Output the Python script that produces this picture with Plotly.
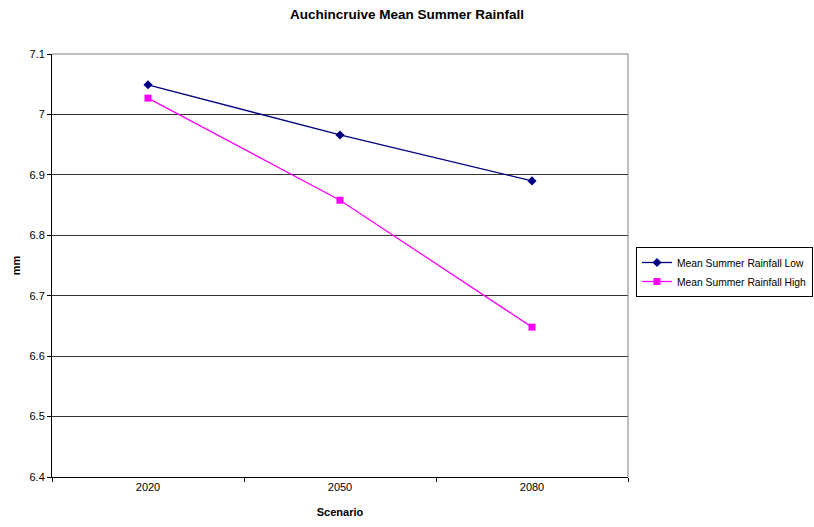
import plotly.graph_objects as go

scenarios = ["2020", "2050", "2080"]
rainfall_low = [7.049, 6.966, 6.890]
rainfall_high = [7.027, 6.858, 6.648]
y_ticks = [6.4, 6.5, 6.6, 6.7, 6.8, 6.9, 7.0, 7.1]
y_tick_text = ["6.4", "6.5", "6.6", "6.7", "6.8", "6.9", "7", "7.1"]

font = "Liberation Sans, Arial, sans-serif"

fig = go.Figure()
fig.add_trace(go.Scatter(
    x=scenarios, y=rainfall_low, mode="lines+markers",
    name="Mean Summer Rainfall Low",
    line=dict(color="#000080", width=1.3),
    marker=dict(symbol="diamond", size=7, color="#000080"),
))
fig.add_trace(go.Scatter(
    x=scenarios, y=rainfall_high, mode="lines+markers",
    name="Mean Summer Rainfall High",
    line=dict(color="#FF00FF", width=1.3),
    marker=dict(symbol="square", size=7, color="#FF00FF"),
))

fig.update_layout(
    width=814, height=527,
    margin=dict(l=52, r=186, t=54, b=50, autoexpand=False),
    paper_bgcolor="white", plot_bgcolor="white",
    font=dict(family=font, size=11, color="black"),
    title=dict(text="<b>Auchincruive Mean Summer Rainfall</b>",
               x=0.5, xref="container", y=0.973, yref="container",
               xanchor="center", yanchor="middle",
               font=dict(family=font, size=13.5, color="black")),
    showlegend=True,
    legend=dict(x=636 / 814, y=1 - 247 / 527, xref="container", yref="container",
                xanchor="left", yanchor="top",
                bordercolor="black", borderwidth=1, bgcolor="white",
                font=dict(family=font, size=10.3, color="black"),
                itemwidth=30, tracegroupgap=0),
)

fig.update_xaxes(
    type="category", range=[-0.5, 2.5],
    tickson="boundaries", ticks="outside", ticklen=4, tickcolor="black",
    showline=True, linecolor="black", linewidth=1, mirror=False,
    showgrid=False, zeroline=False,
    tickfont=dict(family=font, size=11),
    title=dict(text="<b>Scenario</b>", font=dict(family=font, size=11), standoff=16),
)
fig.update_yaxes(
    range=[6.4, 7.1], tickvals=y_ticks, ticktext=y_tick_text,
    ticks="outside", ticklen=4, tickcolor="black",
    showline=True, linecolor="black", linewidth=1,
    showgrid=True, gridcolor="#333333", gridwidth=1, zeroline=False,
    tickfont=dict(family=font, size=11),
    title=dict(text="<b>mm</b>", font=dict(family=font, size=11), standoff=6),
)

# Gray top and right frame edges of the plotting area
fig.add_shape(type="line", xref="paper", yref="paper", x0=0, x1=1, y0=1, y1=1,
              line=dict(color="#808080", width=1))
fig.add_shape(type="line", xref="paper", yref="paper", x0=1, x1=1, y0=0, y1=1,
              line=dict(color="#808080", width=1))

fig.write_html("out.html")
